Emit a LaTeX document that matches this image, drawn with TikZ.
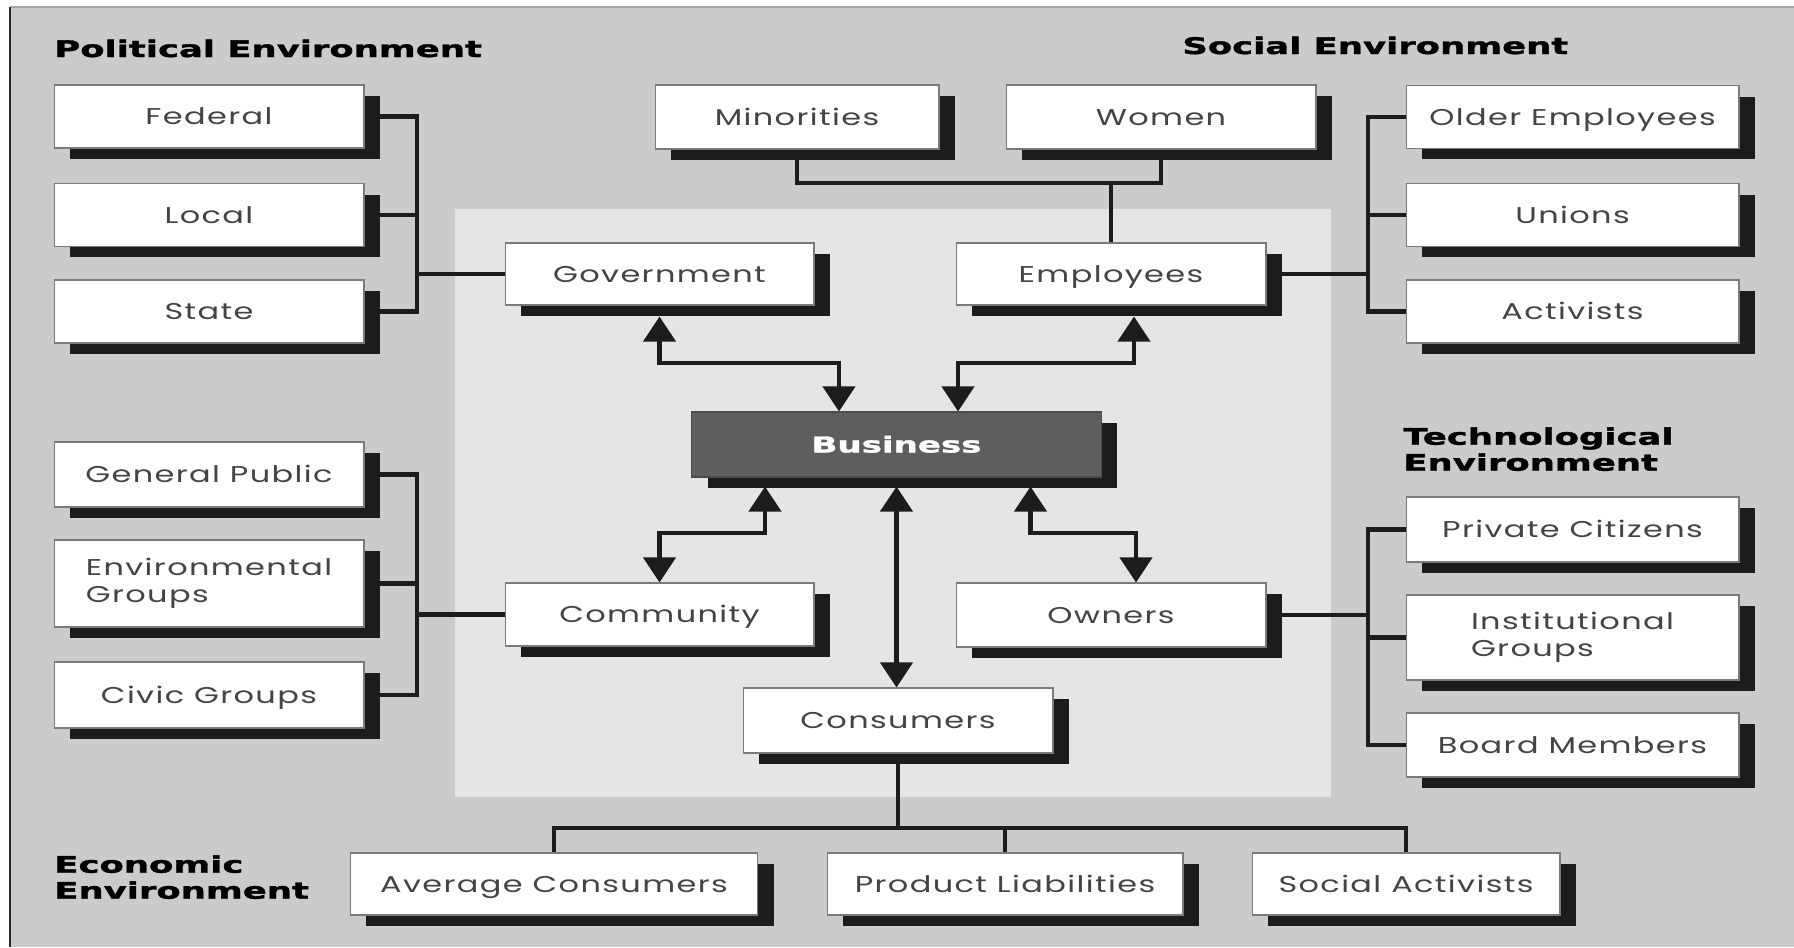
\documentclass[tikz,border=0pt]{standalone}
\usepackage{fontspec}
\usetikzlibrary{arrows.meta,shadows,calc}

% Fonts: wide geometric face for the boxes, heavy extended face for headings
\newfontfamily\boxfont[FakeStretch=1.4,LetterSpace=6]{Poppins}
\newfontfamily\headfont[FakeStretch=1.55,FakeBold=1.5]{DejaVu Sans}

\definecolor{outerbg}{HTML}{CBCBCB}
\definecolor{innerbg}{HTML}{E5E5E5}
\definecolor{ink}{HTML}{1C1C1C}
\definecolor{boxtext}{HTML}{444444}
\definecolor{boxline}{HTML}{7A7A7A}
\definecolor{bizfill}{HTML}{5E5E5E}
\definecolor{frameline}{HTML}{2A2A2A}

\pgfdeclarelayer{panel}
\pgfdeclarelayer{wires}
\pgfsetlayers{panel,wires,main}

\begin{document}
\begin{tikzpicture}[
  x=0.02cm, y=-0.02cm,
  boxbase/.style={draw=boxline, line width=0.6pt, fill=white, inner sep=0pt,
    minimum width=6.2cm, minimum height=1.27cm, align=center, text=boxtext,
    font=\boxfont\fontsize{13}{15.4}\selectfont,
    drop shadow={shadow xshift=0.32cm, shadow yshift=-0.22cm, fill=ink, opacity=1}},
  box/.style={boxbase, text height=0.32cm, text depth=0pt},
  twoline/.style={boxbase, align=left},
  hub/.style={box, fill=bizfill, draw=bizfill!80!black, text=white,
    font=\headfont\bfseries\fontsize{12.5}{14.5}\selectfont},
  hdr/.style={inner sep=0pt, text=black, align=left,
    font=\headfont\bfseries\fontsize{13}{14.8}\selectfont},
  conn/.style={draw=ink, line width=0.085cm, line join=miter},
  biarrow/.style={conn, {Triangle[width=0.64cm,length=0.5cm]}-{Triangle[width=0.64cm,length=0.5cm]}}
]
\useasboundingbox (0,0) rectangle (1794,947);

% ---------- backgrounds ----------
\begin{pgfonlayer}{panel}
  \fill[white] (0,0) rectangle (1794,947);
  \fill[outerbg] (10,7) rectangle (1794,947);
  \fill[innerbg] (455,209) rectangle (1331,797);
  \draw[black!35, line width=1pt] (10,7) -- (1794,7);
  \draw[frameline, line width=0.06cm] (10,7) -- (10,947);
\end{pgfonlayer}

% ---------- headings ----------
\node[hdr, anchor=base west] (polhdr) at (54,57) {Political Environment};
\node[hdr, anchor=base west] (sochdr) at (1182,54) {Social Environment};
\node[hdr, anchor=north west] (techhdr) at (1403,427) {Technological\\Environment};
\node[hdr, anchor=north west] (econhdr) at (54,855) {Economic\\Environment};

% ---------- political group ----------
\node[box, minimum height=1.26cm] (fed) at (209,116.5) {Federal};
\node[box, minimum height=1.26cm] (loc) at (209,215) {Local};
\node[box, minimum height=1.26cm] (sta) at (209,311.5) {State};

% ---------- community group ----------
\node[box, minimum height=1.3cm] (gp) at (209,474.5) {General Public};
\node[twoline, minimum height=1.74cm] (env) at (209,583.5) {Environmental\\Groups};
\node[box, minimum height=1.32cm] (civ) at (209,695) {Civic Groups};

% ---------- social group ----------
\node[box, minimum width=5.68cm, minimum height=1.28cm] (mino) at (797,117) {Minorities};
\node[box, minimum height=1.28cm] (wom) at (1161,117) {Women};
\node[box, minimum width=6.66cm, minimum height=1.26cm] (old) at (1572.5,117) {Older Employees};
\node[box, minimum width=6.66cm, minimum height=1.26cm] (uni) at (1572.5,215) {Unions};
\node[box, minimum width=6.66cm, minimum height=1.26cm] (act) at (1572.5,311.5) {Activists};

% ---------- stakeholders ----------
\node[box, minimum width=6.18cm, minimum height=1.24cm] (gov) at (659.5,274) {Government};
\node[box, minimum height=1.24cm] (emp) at (1111,274) {Employees};
\node[hub, minimum width=8.2cm, minimum height=1.3cm] (bus) at (896.5,444.5) {Business};
\node[box, minimum width=6.18cm, minimum height=1.26cm] (com) at (659.5,614.5) {Community};
\node[box, minimum height=1.28cm] (own) at (1111,615) {Owners};
\node[box, minimum height=1.3cm] (con) at (898,720.5) {Consumers};

% ---------- technological group ----------
\node[box, minimum width=6.66cm, minimum height=1.3cm] (pri) at (1572.5,529.5) {Private Citizens};
\node[twoline, minimum width=6.66cm, minimum height=1.7cm] (ins) at (1572.5,637.5) {Institutional\\Groups};
\node[box, minimum width=6.66cm, minimum height=1.28cm] (boa) at (1572.5,745) {Board Members};

% ---------- economic group ----------
\node[box, minimum width=8.16cm, minimum height=1.24cm] (avg) at (554,884) {Average Consumers};
\node[box, minimum width=7.12cm, minimum height=1.24cm] (pro) at (1005,884) {Product Liabilities};
\node[box, minimum width=6.16cm, minimum height=1.24cm] (soc) at (1406,884) {Social Activists};

% ---------- connectors ----------
\begin{pgfonlayer}{wires}
  % political bracket
  \coordinate (polj) at (417,274);
  \draw[conn] (fed.east) -| (polj);
  \draw[conn] (loc.east) -| (polj);
  \draw[conn] (sta.east) -| (polj);
  \draw[conn] (gov.west) -- (polj);
  % community bracket
  \coordinate (comj) at (417,614.5);
  \draw[conn] (gp.east) -| (comj);
  \draw[conn] (env.east) -| (comj);
  \draw[conn] (civ.east) -| (comj);
  \draw[conn] (com.west) -- (comj);
  % minorities / women to employees
  \coordinate (topj) at (1111,183);
  \draw[conn] (mino.south) |- (topj);
  \draw[conn] (wom.south) |- (topj);
  \draw[conn] (topj) -- (emp.north);
  % social bracket
  \coordinate (socj) at (1368,274);
  \draw[conn] (old.west) -| (socj);
  \draw[conn] (uni.west) -| (socj);
  \draw[conn] (act.west) -| (socj);
  \draw[conn] (emp.east) -- (socj);
  % technological bracket
  \coordinate (techj) at (1368,615);
  \draw[conn] (pri.west) -| (techj);
  \draw[conn] (ins.west) -| (techj);
  \draw[conn] (boa.west) -| (techj);
  \draw[conn] (own.east) -- (techj);
  % consumers to economic group
  \coordinate (conj) at (898,828);
  \draw[conn] (con.south) -- (conj);
  \draw[conn] (avg.north) |- (conj);
  \draw[conn] (pro.north) |- (conj);
  \draw[conn] (soc.north) |- (conj);
  % two-way links with business
  \coordinate (govb) at (839,363);
  \coordinate (empb) at (958,363);
  \coordinate (comb) at (765,533);
  \coordinate (ownb) at (1030.5,533);
  \draw[biarrow, shorten <=0.22cm] (gov.south) |- (govb) -- (govb |- bus.north);
  \draw[biarrow, shorten <=0.22cm] ($(emp.south)+(23,0)$) |- (empb) -- (empb |- bus.north);
  \draw[biarrow, shorten <=0.18cm] (comb |- bus.south) -- (comb) -| (com.north);
  \draw[biarrow, shorten <=0.18cm] (ownb |- bus.south) -- (ownb) -| ($(own.north)+(25,0)$);
  \draw[biarrow, shorten <=0.18cm] (bus.south) -- (bus.south |- con.north);
\end{pgfonlayer}
\end{tikzpicture}
\end{document}
